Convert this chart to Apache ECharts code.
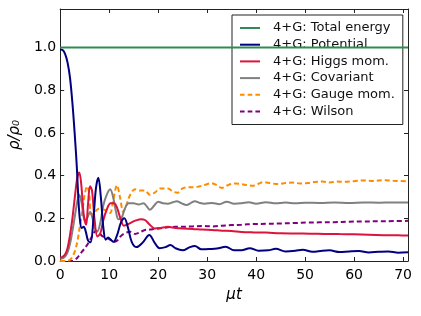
<!DOCTYPE html>
<html><head><meta charset="utf-8">
<script src="https://cdn.jsdelivr.net/npm/echarts@6/dist/echarts.min.js"></script>
<style>html,body{margin:0;padding:0;background:#fff;}#c{width:421px;height:316px;}</style>
</head><body><div id="c"></div>
<script>
// Series names
const seriesNames = ['4+G: Total energy','4+G: Potential','4+G: Higgs mom.','4+G: Covariant','4+G: Gauge mom.','4+G: Wilson'];
// x tick labels and y tick labels
const xTicks = [0,10,20,30,40,50,60,70];
const yTicks = ['0.0','0.2','0.4','0.6','0.8','1.0'];

// [mu t, rho/rho0]
const totalEnergy = [[0,1.0],[71,1.0]];
const potential = [[0,0.99],[0.5,0.988],[1,0.97],[1.5,0.93],[2,0.86],[2.5,0.74],[2.8,0.65],[3.1,0.55],[3.4,0.44],[3.7,0.3],[4.0,0.2],[4.4,0.155],[4.8,0.16],[5.2,0.14],[5.7,0.095],[6.2,0.088],[6.8,0.2],[7.3,0.34],[7.8,0.39],[8.3,0.3],[8.8,0.16],[9.3,0.1],[9.8,0.11],[10.3,0.1],[10.9,0.09],[11.6,0.12],[12.4,0.18],[13.1,0.2],[13.8,0.16],[14.6,0.09],[15.6,0.065],[16.8,0.085],[18.2,0.122],[19.3,0.085],[20.3,0.06],[21.5,0.065],[22.5,0.075],[23.5,0.06],[25,0.05],[26.5,0.065],[27.5,0.07],[28.8,0.055],[30.5,0.056],[32,0.058],[33.8,0.067],[35.5,0.05],[37,0.05],[38.7,0.06],[40.5,0.048],[42.5,0.05],[44,0.057],[46,0.045],[48,0.048],[49.5,0.053],[51.5,0.043],[53.5,0.048],[55,0.05],[57,0.042],[59,0.045],[61,0.047],[63,0.04],[65,0.043],[67,0.045],[69,0.039],[71,0.041]];
const higgsMom = [[0,0.015],[0.5,0.02],[1,0.03],[1.5,0.06],[2,0.12],[2.5,0.2],[3,0.3],[3.5,0.39],[3.9,0.414],[4.3,0.36],[4.8,0.22],[5.3,0.17],[5.7,0.27],[6.1,0.35],[6.5,0.33],[7,0.2],[7.6,0.115],[8.2,0.13],[8.8,0.19],[9.5,0.24],[10.3,0.27],[11,0.27],[11.6,0.25],[12.3,0.2],[13,0.165],[13.6,0.17],[14.5,0.18],[15.5,0.19],[16.5,0.195],[17.3,0.192],[18.3,0.17],[19.3,0.152],[20.5,0.155],[22,0.16],[23.5,0.155],[25,0.152],[27,0.15],[29,0.147],[31,0.145],[33,0.142],[35,0.14],[37,0.136],[39.5,0.134],[42,0.133],[45,0.13],[48,0.129],[51,0.128],[54,0.127],[57,0.126],[60,0.125],[63,0.123],[66,0.121],[69,0.12],[71,0.119]];
const covariant = [[0,0.01],[0.5,0.012],[1,0.02],[1.5,0.04],[2,0.08],[2.5,0.14],[3,0.21],[3.5,0.28],[3.9,0.31],[4.4,0.27],[5,0.19],[5.5,0.2],[6.1,0.23],[6.6,0.2],[7.2,0.145],[7.6,0.14],[8.2,0.18],[8.8,0.26],[9.5,0.31],[10.2,0.336],[10.8,0.3],[11.4,0.23],[11.9,0.195],[12.5,0.2],[13.2,0.245],[14,0.27],[15,0.27],[16,0.265],[17,0.27],[17.7,0.255],[18.3,0.24],[19.2,0.26],[20,0.278],[21,0.27],[22,0.268],[23,0.275],[23.8,0.28],[24.8,0.27],[25.8,0.262],[26.7,0.272],[27.5,0.28],[28.5,0.272],[29.5,0.268],[31,0.272],[32.5,0.266],[34,0.278],[35.5,0.268],[37,0.27],[38.5,0.275],[40,0.268],[42,0.275],[44,0.27],[46,0.274],[48,0.27],[50,0.273],[53,0.272],[56,0.274],[59,0.272],[62,0.274],[65,0.273],[68,0.274],[71,0.274]];
const gaugeMom = [[0,0],[1,0],[2,0.005],[2.5,0.02],[3,0.045],[3.5,0.09],[4,0.16],[4.5,0.23],[5,0.31],[5.5,0.35],[5.9,0.32],[6.3,0.22],[6.8,0.22],[7.5,0.24],[8.3,0.245],[9,0.24],[9.5,0.235],[10.2,0.225],[10.8,0.28],[11.6,0.355],[12.2,0.3],[12.9,0.23],[13.5,0.26],[14.3,0.31],[15.3,0.336],[16.3,0.33],[17.3,0.33],[18.3,0.31],[19.3,0.32],[20.5,0.34],[22,0.34],[23,0.325],[24,0.32],[25,0.34],[26.2,0.345],[27.4,0.345],[28.5,0.35],[29.5,0.356],[30.8,0.364],[32,0.355],[33,0.342],[34.2,0.355],[35.7,0.363],[37,0.36],[38.2,0.355],[39.3,0.352],[40.5,0.362],[41.5,0.369],[43,0.364],[44.5,0.36],[46,0.365],[47.5,0.367],[49,0.363],[50.5,0.365],[52,0.37],[53.5,0.372],[55,0.368],[56.5,0.372],[58,0.371],[60,0.374],[62,0.377],[64,0.375],[66,0.378],[68,0.376],[71,0.373]];
const wilson = [[0,0],[2.5,0],[3,0.005],[3.5,0.015],[4,0.03],[4.5,0.045],[5.2,0.065],[5.9,0.09],[6.6,0.12],[7.3,0.14],[8,0.13],[8.7,0.115],[9.4,0.11],[10.2,0.1],[11,0.09],[11.6,0.095],[12.3,0.115],[13.2,0.13],[14.3,0.137],[15.3,0.127],[16.3,0.135],[17.3,0.145],[18.3,0.147],[19.3,0.15],[20.5,0.153],[22,0.158],[23.5,0.16],[25,0.16],[27,0.162],[29,0.164],[31,0.162],[33,0.165],[35,0.168],[37,0.17],[39.5,0.173],[42,0.174],[45,0.176],[48,0.178],[50.5,0.18],[53,0.181],[56,0.182],[59,0.184],[62,0.185],[65,0.186],[68,0.187],[71,0.188]];

const colors = ['#2e8b57','#000080','#dc143c','#808080','#ff8c00','#800080'];
const dataList = [totalEnergy, potential, higgsMom, covariant, gaugeMom, wilson];
const dashed = [false,false,false,false,true,true];

const solidIcon = 'path://M0,0h20v2h-20z';
const dashIcon = 'path://M0,0h4.5v2h-4.5zM7.5,0h4.5v2h-4.5zM15,0h4.5v2h-4.5z';

const font = 'DejaVu Sans';
const chart = echarts.init(document.getElementById('c'), null, {renderer:'canvas'});
const axisLineStyle = {color:'#222', width:1};
const option = {
  animation:false,
  backgroundColor:'#fff',
  grid:{left:58, right:13, top:9, bottom:55, containLabel:false},
  legend:{
    orient:'vertical', left:232, top:15,
    data:seriesNames.map((n,i)=>({name:n, icon: dashed[i]?dashIcon:solidIcon})),
    backgroundColor:'#fff', borderColor:'#222', borderWidth:1,
    padding:[6,8,6,8],
    itemWidth:20, itemHeight:2, symbolKeepAspect:false, itemGap:2.7,
    textStyle:{fontFamily:font, fontSize:13, color:'#111', padding:[0,0,0,8], lineHeight:14}
  },
  xAxis:[{
    type:'value', min:0, max:71, interval:10, position:'bottom',
    name:'μt', nameLocation:'middle', nameGap:27,
    nameTextStyle:{fontFamily:font, fontSize:15, fontStyle:'italic', color:'#000'},
    axisLine:{show:true, onZero:false, lineStyle:axisLineStyle},
    axisTick:{show:true, inside:true, length:4, lineStyle:{color:'#222'}},
    axisLabel:{fontFamily:font, fontSize:14, color:'#000', margin:7, showMaxLabel:false,
      formatter:v=> xTicks.includes(v) ? String(v) : ''},
    splitLine:{show:false}
  },{
    type:'value', min:0, max:71, interval:10, position:'top',
    axisLine:{show:true, onZero:false, lineStyle:axisLineStyle},
    axisTick:{show:true, inside:true, length:4, lineStyle:{color:'#222'}},
    axisLabel:{show:false}, splitLine:{show:false}
  }],
  yAxis:[{
    type:'value', min:0, max:1.18, interval:0.2, position:'left',
    name:'ρ/ρ₀', nameLocation:'middle', nameGap:26, nameRotate:90,
    nameTextStyle:{fontFamily:font, fontSize:15, fontStyle:'italic', color:'#000'},
    axisLine:{show:true, onZero:false, lineStyle:axisLineStyle},
    axisTick:{show:true, inside:true, length:4, lineStyle:{color:'#222'}},
    axisLabel:{fontFamily:font, fontSize:14, color:'#000', margin:4, showMaxLabel:false,
      formatter:v=>{const s=v.toFixed(1); return yTicks.includes(s)?s:'';}},
    splitLine:{show:false}
  },{
    type:'value', min:0, max:1.18, interval:0.2, position:'right',
    axisLine:{show:true, onZero:false, lineStyle:axisLineStyle},
    axisTick:{show:true, inside:true, length:4, lineStyle:{color:'#222'}},
    axisLabel:{show:false}, splitLine:{show:false}
  }],
  series: seriesNames.map((n,i)=>({
    name:n, type:'line', xAxisIndex:0, yAxisIndex:0,
    data:dataList[i], smooth:0.35, symbol:'none', showSymbol:false,
    color:colors[i],
    itemStyle:{color:colors[i]},
    lineStyle:{color:colors[i], width:2, type: dashed[i] ? [5,3] : 'solid'},
    z: 10-i
  }))
};
chart.setOption(option);
</script></body></html>
